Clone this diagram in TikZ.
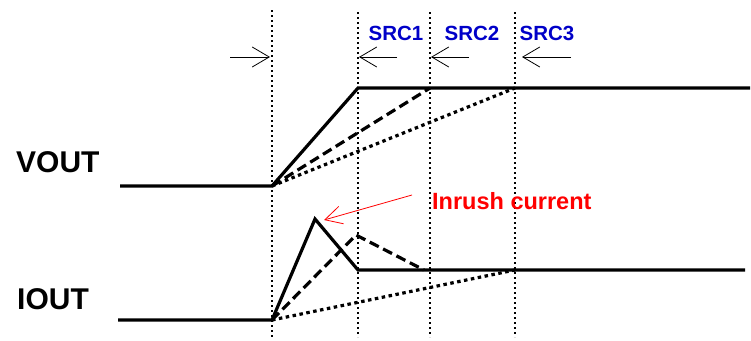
\documentclass[tikz,border=0pt]{standalone}
\usepackage{fontspec}
\setmainfont{Liberation Sans}
\usetikzlibrary{arrows.meta}
\definecolor{srcblue}{RGB}{0,0,200}
\definecolor{inred}{RGB}{255,0,0}
\tikzset{
  guide/.style={line width=2.2pt, dash pattern=on 2.2pt off 2.8pt},
  wave/.style={line width=3.2pt, line join=miter},
  wdash/.style={wave, dash pattern=on 10pt off 5pt},
  wdot/.style={wave, dash pattern=on 3.5pt off 3.5pt},
  marker/.style={line width=0.8pt, -{Straight Barb[length=17pt,width=20pt,line width=0.8pt]}},
  srclbl/.style={text=srcblue, font=\fontsize{20.5}{22}\selectfont\bfseries, inner sep=0pt},
  siglbl/.style={font=\fontsize{30}{32}\selectfont\bfseries, inner sep=0pt},
}
\begin{document}
\begin{tikzpicture}[x=1pt,y=-1pt]
\useasboundingbox (0,0) rectangle (751,340);
% guide lines
\coordinate (g0t) at (272,10); \coordinate (g0b) at (272,337);
\coordinate (g1t) at (358,12); \coordinate (g1b) at (358,337);
\coordinate (g2t) at (430,12); \coordinate (g2b) at (430,337);
\coordinate (g3t) at (515,12); \coordinate (g3b) at (515,337);
\draw[guide] (g0t) -- (g0b);
\draw[guide] (g1t) -- (g1b);
\draw[guide] (g2t) -- (g2b);
\draw[guide] (g3t) -- (g3b);
% markers
\coordinate (m0s) at (230,57); \coordinate (m0e) at (270,57);
\coordinate (m1s) at (397,57); \coordinate (m1e) at (359,57);
\coordinate (m2s) at (469,57); \coordinate (m2e) at (431,57);
\coordinate (m3s) at (571,57); \coordinate (m3e) at (522,57);
\draw[marker] (m0s) -- (m0e);
\draw[marker] (m1s) -- (m1e);
\draw[marker] (m2s) -- (m2e);
\draw[marker] (m3s) -- (m3e);
% labels
\node[srclbl] (src1) at (396,33) {SRC1};
\node[srclbl] (src2) at (472,33) {SRC2};
\node[srclbl] (src3) at (547,33) {SRC3};
\node[siglbl, anchor=west] (vout) at (16,162) {VOUT};
\node[siglbl, anchor=west] (iout) at (17,299) {IOUT};
% VOUT waveforms
\coordinate (v0) at (120,186); \coordinate (v1) at (272,186);
\coordinate (v2) at (358,88); \coordinate (v3) at (750,88);
\coordinate (v4) at (430,88); \coordinate (v5) at (515,88);
\draw[wave] (v0) -- (v1) -- (v2) -- (v3);
\draw[wdash] (v1) -- (v4);
\draw[wdot] (v1) -- (v5);
% IOUT waveforms
\coordinate (i0) at (118,320); \coordinate (i1) at (272,320);
\coordinate (i2) at (315,219); \coordinate (i3) at (358,270);
\coordinate (i4) at (745,270); \coordinate (i5) at (356,235);
\coordinate (i6) at (424,270); \coordinate (i7) at (515,270);
\draw[wave] (i0) -- (i1) -- (i2) -- (i3) -- (i4);
\draw[wdash] (i1) -- (i5) -- (i6);
\draw[wdot] (i1) -- (i7);
% inrush annotation
\node[text=inred, font=\fontsize{23.5}{25}\selectfont\bfseries, inner sep=0pt, anchor=west] (inrush) at (432,201) {Inrush current};
\coordinate (ia) at (412,195); \coordinate (ib) at (324,220);
\draw[inred, line width=0.8pt, -{Straight Barb[length=17pt,width=18pt,line width=0.8pt]}] (ia) -- (ib);
\end{tikzpicture}
\end{document}
